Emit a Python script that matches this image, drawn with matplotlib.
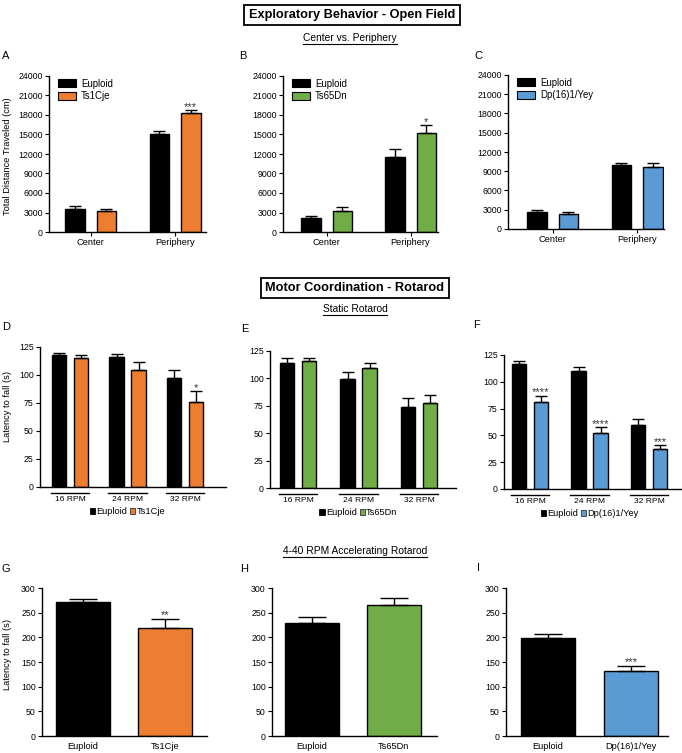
import matplotlib
matplotlib.use('Agg')
import matplotlib.pyplot as plt
import matplotlib.transforms as mtransforms
from matplotlib.lines import Line2D
from matplotlib.patches import Patch
import numpy as np

plt.rcParams['font.family'] = ['Liberation Sans', 'DejaVu Sans']

# ---------------- DATA ----------------
of_categories = ['Center', 'Periphery']
of_a_euploid = [3500, 15000]
of_a_euploid_err = [500, 600]
of_a_ts1cje = [3300, 18300]
of_a_ts1cje_err = [200, 500]
of_a_sig = ['', '***']

of_b_euploid = [2150, 11550]
of_b_euploid_err = [350, 1150]
of_b_ts65dn = [3300, 15300]
of_b_ts65dn_err = [550, 1200]
of_b_sig = ['', '*']

of_c_euploid = [2600, 9900]
of_c_euploid_err = [300, 400]
of_c_dp16 = [2300, 9600]
of_c_dp16_err = [400, 700]
of_c_sig = ['', '']

rpm_labels = ['16 RPM', '24 RPM', '32 RPM']
sr_d_euploid = [118.2, 116.4, 97.6]
sr_d_euploid_err = [1.4, 2.1, 7.2]
sr_d_ts1cje = [115.2, 104.5, 76.2]
sr_d_ts1cje_err = [2.4, 6.8, 9.2]
sr_d_sig = ['', '', '*']

sr_e_euploid = [113.6, 99.7, 74.2]
sr_e_euploid_err = [4.9, 6.3, 8.2]
sr_e_ts65dn = [115.8, 109.4, 77.6]
sr_e_ts65dn_err = [2.4, 4.2, 6.9]
sr_e_sig = ['', '', '']

sr_f_euploid = [116.6, 110.4, 59.4]
sr_f_euploid_err = [3.1, 3.6, 5.9]
sr_f_dp16 = [81.5, 51.9, 37.0]
sr_f_dp16_err = [5.5, 5.6, 4.0]
sr_f_sig = ['****', '****', '***']

ar_g_labels = ['Euploid', 'Ts1Cje']
ar_g_values = [272.4, 219.2]
ar_g_err = [6.1, 18.2]
ar_g_sig = ['', '**']

ar_h_labels = ['Euploid', 'Ts65Dn']
ar_h_values = [229.7, 265.5]
ar_h_err = [11.5, 13.5]
ar_h_sig = ['', '']

ar_i_labels = ['Euploid', 'Dp(16)1/Yey']
ar_i_values = [198.2, 131.5]
ar_i_err = [9.4, 10.5]
ar_i_sig = ['', '***']

# ---------------- STYLE ----------------
BLACK = '#000000'
ORANGE = '#ED7D31'
GREEN = '#70AD47'
BLUE = '#5B9BD5'

W, H = 682, 753
fig = plt.figure(figsize=(W / 100, H / 100), dpi=100)
fig.patch.set_facecolor('white')

TICK_FS = 6.3
LAB_FS = 6.7
STAR_FS = 8.0


def add_ax(x0, y0, x1, y1):
    return fig.add_axes([x0 / W, 1 - y1 / H, (x1 - x0) / W, (y1 - y0) / H])


def style_ax(ax):
    for s in ['top', 'right']:
        ax.spines[s].set_visible(False)
    for s in ['left', 'bottom']:
        ax.spines[s].set_linewidth(1.0)
        ax.spines[s].set_color('black')
    ax.tick_params(axis='both', direction='out', length=3, width=0.8,
                   labelsize=TICK_FS, pad=1.5, colors='black')


def set_xlim_px(ax, x0, x1, centers_px):
    n = len(centers_px)
    ppu = (centers_px[-1] - centers_px[0]) / (n - 1)
    ax.set_xlim(-(centers_px[0] - x0) / ppu, (n - 1) + (x1 - centers_px[-1]) / ppu)
    return ppu


def bars_with_err(ax, x, vals, errs, color, width, cap, sig, ymax):
    ax.bar(x, vals, width=width, color=color, edgecolor='black', linewidth=1.0, zorder=2)
    ax.errorbar(x, vals, yerr=[np.zeros(len(vals)), errs], fmt='none', ecolor='black',
                elinewidth=1.0, capsize=cap, capthick=1.0, zorder=3)
    for xi, v, e, s in zip(x, vals, errs, sig):
        if s:
            ax.text(xi, v + e - ymax * 0.012, s, ha='center', va='bottom',
                    fontsize=STAR_FS, color='#333333', zorder=4)


def grouped_panel(rect, centers_px, eu, eu_err, tg, tg_err, tg_color, sig,
                  ymax, ystep, bar_w_px, gap_px, cap):
    x0, y0, x1, y1 = rect
    ax = add_ax(x0, y0, x1, y1)
    style_ax(ax)
    ppu = set_xlim_px(ax, x0, x1, centers_px)
    bw = bar_w_px / ppu
    off = (bar_w_px + gap_px) / 2 / ppu
    x = np.arange(len(eu))
    bars_with_err(ax, x - off, eu, eu_err, BLACK, bw, cap, [''] * len(eu), ymax)
    bars_with_err(ax, x + off, tg, tg_err, tg_color, bw, cap, sig, ymax)
    ax.set_ylim(0, ymax)
    ax.set_yticks(np.arange(0, ymax + 1, ystep))
    return ax, x, off, bw


# ---------------- OPEN FIELD (A-C) ----------------
of_specs = [
    ((49, 76, 206, 232), [90.5, 175], of_a_euploid, of_a_euploid_err, of_a_ts1cje,
     of_a_ts1cje_err, ORANGE, of_a_sig, 'Ts1Cje'),
    ((283, 76, 438, 232), [326.5, 410.5], of_b_euploid, of_b_euploid_err, of_b_ts65dn,
     of_b_ts65dn_err, GREEN, of_b_sig, 'Ts65Dn'),
    ((508, 75, 664, 229), [552.5, 637], of_c_euploid, of_c_euploid_err, of_c_dp16,
     of_c_dp16_err, BLUE, of_c_sig, 'Dp(16)1/Yey'),
]
for rect, cpx, eu, eue, tg, tge, col, sig, name in of_specs:
    ax, x, off, bw = grouped_panel(rect, cpx, eu, eue, tg, tge, col, sig,
                                   24000, 3000, 19.5, 12, 4)
    ax.set_xticks(x)
    ax.set_xticklabels(of_categories, fontsize=LAB_FS)
    handles = [Patch(facecolor=BLACK, edgecolor='black', linewidth=0.8),
               Patch(facecolor=col, edgecolor='black', linewidth=0.8)]
    ax.legend(handles, ['Euploid', name], loc='upper left', bbox_to_anchor=(0.02, 1.02),
              frameon=False, fontsize=6.9, handlelength=1.9, handleheight=0.9,
              handletextpad=0.5, labelspacing=0.25, borderaxespad=0.2)

# ---------------- STATIC ROTAROD (D-F) ----------------
sr_specs = [
    ((40, 347, 226, 487), [70, 128, 185], sr_d_euploid, sr_d_euploid_err, sr_d_ts1cje,
     sr_d_ts1cje_err, ORANGE, sr_d_sig, 'Ts1Cje'),
    ((270, 351, 456, 488), [298, 358.5, 419], sr_e_euploid, sr_e_euploid_err, sr_e_ts65dn,
     sr_e_ts65dn_err, GREEN, sr_e_sig, 'Ts65Dn'),
    ((504, 355, 681, 489), [530, 589.5, 649], sr_f_euploid, sr_f_euploid_err, sr_f_dp16,
     sr_f_dp16_err, BLUE, sr_f_sig, 'Dp(16)1/Yey'),
]
for rect, cpx, eu, eue, tg, tge, col, sig, name in sr_specs:
    ax, x, off, bw = grouped_panel(rect, cpx, eu, eue, tg, tge, col, sig,
                                   125, 25, 14.5, 7.5, 4)
    ax.set_xticks([])
    axh = rect[3] - rect[1]
    trans = mtransforms.blended_transform_factory(ax.transData, ax.transAxes)
    for xi, lab in zip(x, rpm_labels):
        ax.add_line(Line2D([xi - off - bw / 2 - 0.02, xi + off + bw / 2 + 0.02],
                           [-6 / axh, -6 / axh], transform=trans, color='black',
                           lw=1.0, clip_on=False))
        ax.text(xi, -9 / axh, lab, transform=trans, ha='center', va='top',
                fontsize=6.1)
    handles = [Patch(facecolor=BLACK, edgecolor='black', linewidth=0.6),
               Patch(facecolor=col, edgecolor='#333333', linewidth=0.6)]
    ax.legend(handles, ['Euploid', name], loc='upper center', ncol=2,
              bbox_to_anchor=(1.0, -20 / axh), bbox_transform=trans,
              frameon=False, fontsize=6.7, handlelength=0.55, handleheight=0.55,
              handletextpad=0.15, columnspacing=0.3, borderaxespad=0, borderpad=0)

# ---------------- ACCELERATING ROTAROD (G-I) ----------------
ar_specs = [
    ((42, 588, 207, 736), [82.5, 165], ar_g_labels, ar_g_values, ar_g_err, ORANGE, ar_g_sig),
    ((272, 588, 437, 736), [312, 394], ar_h_labels, ar_h_values, ar_h_err, GREEN, ar_h_sig),
    ((506, 588, 668, 736), [547.5, 631], ar_i_labels, ar_i_values, ar_i_err, BLUE, ar_i_sig),
]
for rect, cpx, labels, vals, errs, col, sig in ar_specs:
    x0, y0, x1, y1 = rect
    ax = add_ax(x0, y0, x1, y1)
    style_ax(ax)
    ppu = set_xlim_px(ax, x0, x1, cpx)
    bw = 54 / ppu
    x = np.arange(len(vals))
    ax.bar(x, vals, width=bw, color=[BLACK, col], edgecolor='black', linewidth=1.0, zorder=2)
    ax.errorbar(x, vals, yerr=[np.zeros(len(vals)), errs], fmt='none', ecolor='black',
                elinewidth=1.0, capsize=10, capthick=1.0, zorder=3)
    for xi, v, e, s in zip(x, vals, errs, sig):
        if s:
            ax.text(xi, v + e - 3, s, ha='center', va='bottom', fontsize=STAR_FS,
                    color='#333333')
    ax.set_ylim(0, 300)
    ax.set_yticks(np.arange(0, 301, 50))
    ax.set_xticks(x)
    ax.set_xticklabels(labels, fontsize=LAB_FS)
    ax.tick_params(axis='x', length=0, pad=4)

# ---------------- TEXT ----------------
def ftext(xp, yp, s, **kw):
    return fig.text(xp / W, 1 - yp / H, s, **kw)

for lab, xp, yp in [('A', 6, 56), ('B', 243, 56), ('C', 478, 56),
                    ('D', 6, 327), ('E', 245, 329), ('F', 476, 325),
                    ('G', 6, 569), ('H', 244, 569), ('I', 478, 568)]:
    ftext(xp, yp, lab, fontsize=8, ha='center', va='center')

ftext(8, 156, 'Total Distance Traveled (cm)', rotation=90, fontsize=LAB_FS,
      ha='center', va='center')
ftext(8, 407, 'Latency to fall (s)', rotation=90, fontsize=LAB_FS, ha='center', va='center')
ftext(8, 654, 'Latency to fall (s)', rotation=90, fontsize=LAB_FS, ha='center', va='center')

box = dict(boxstyle='square,pad=0.35', facecolor='white', edgecolor='black', linewidth=1.3)
ftext(352, 15, 'Exploratory Behavior - Open Field', fontsize=9.2, fontweight='bold',
      ha='center', va='center', bbox=box)
ftext(355, 288, 'Motor Coordination - Rotarod', fontsize=9.2, fontweight='bold',
      ha='center', va='center', bbox=box)

subtitles = [ftext(350, 38, 'Center vs. Periphery', fontsize=7.4, ha='center', va='center'),
             ftext(355, 309, 'Static Rotarod', fontsize=7.4, ha='center', va='center'),
             ftext(355, 551, '4-40 RPM Accelerating Rotarod', fontsize=7.4, ha='center',
                   va='center')]

fig.canvas.draw()
r = fig.canvas.get_renderer()
for t in subtitles:
    bb = t.get_window_extent(renderer=r)
    yy = (bb.y0 - 0.5) / (H)
    fig.add_artist(Line2D([bb.x0 / W, bb.x1 / W], [yy, yy], transform=fig.transFigure,
                          color='black', lw=0.8))

fig.savefig('out.png', dpi=100, facecolor='white')
